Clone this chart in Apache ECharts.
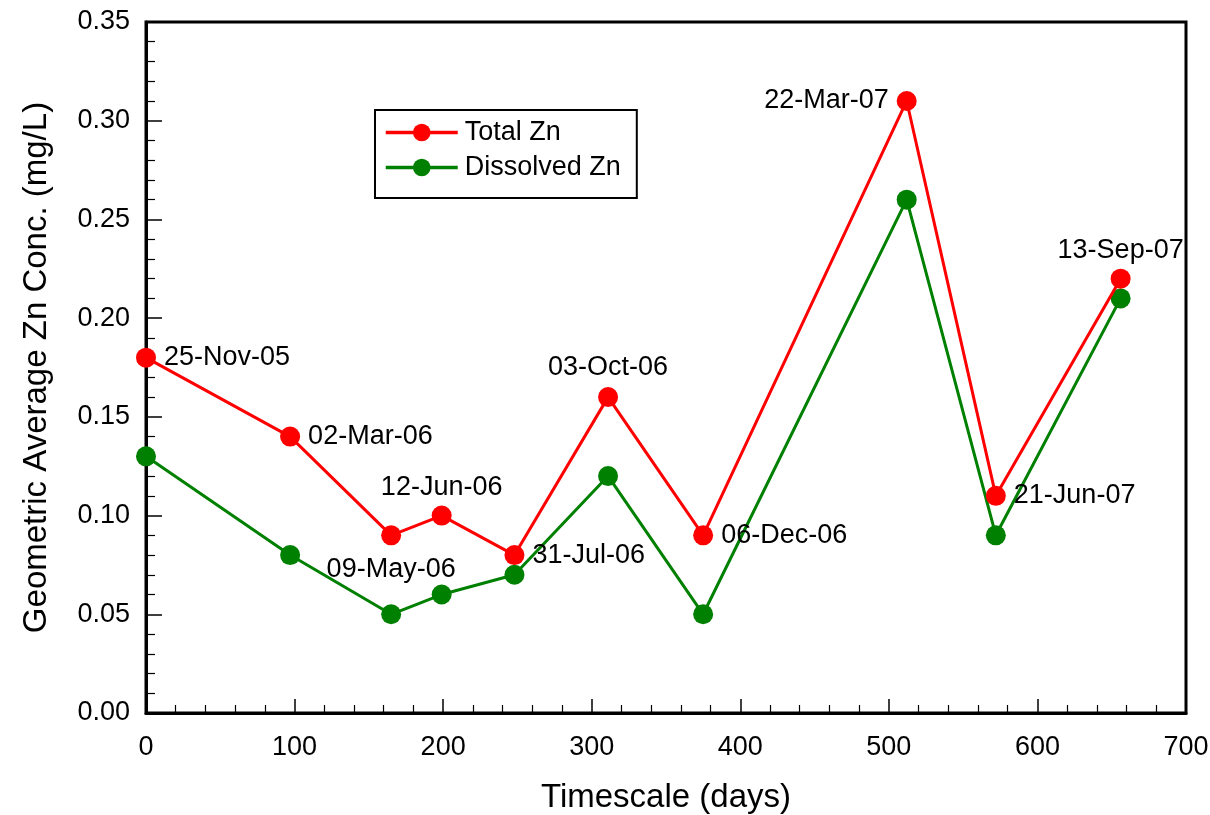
<!DOCTYPE html>
<html>
<head>
<meta charset="utf-8">
<script src="https://cdn.jsdelivr.net/npm/echarts@6/dist/echarts.min.js"></script>
<style>html,body{margin:0;padding:0;background:#fff;}#c{width:1210px;height:815px;}</style>
</head>
<body>
<div id="c"></div>
<script>
const days = [0, 97, 165, 199, 248, 311, 375, 512, 572, 656];
const dates = ['25-Nov-05','02-Mar-06','09-May-06','12-Jun-06','31-Jul-06','03-Oct-06','06-Dec-06','22-Mar-07','21-Jun-07','13-Sep-07'];
const totalZn = [0.18, 0.14, 0.09, 0.10, 0.08, 0.16, 0.09, 0.31, 0.11, 0.22];
const dissolvedZn = [0.13, 0.08, 0.05, 0.06, 0.07, 0.12, 0.05, 0.26, 0.09, 0.21];
const seriesNames = ['Total Zn', 'Dissolved Zn'];

const labelPos = ['right','right','bottom','top','right','top','right','left','right','top'];
const labelDist = [8, 8, 11, 5, 8, 6, 8, 8, 8, 5];

const FONT = 'Liberation Sans, Arial, sans-serif';
const chart = echarts.init(document.getElementById('c'));
chart.setOption({
  animation: false,
  backgroundColor: '#fff',
  grid: { left: 146, right: 24, top: 22, bottom: 102, outerBoundsMode: 'none', containLabel: false, show: true, borderColor: '#000', borderWidth: 3, backgroundColor: 'transparent' },
  legend: {
    orient: 'vertical', left: 375, top: 110,
    data: seriesNames,
    borderColor: '#000', borderWidth: 2, padding: [9, 16, 17, 9],
    itemWidth: 72, itemHeight: 22, itemGap: 8,
    lineStyle: { width: 3.5 },
    textStyle: { fontFamily: FONT, fontSize: 27, color: '#000', padding: [0, 0, 0, 2] },
    backgroundColor: '#fff'
  },
  xAxis: {
    type: 'value', min: 0, max: 700, interval: 100,
    name: 'Timescale (days)', nameLocation: 'middle', nameGap: 68,
    nameTextStyle: { fontFamily: FONT, fontSize: 33, color: '#000' },
    axisLine: { show: true, onZero: false, lineStyle: { color: '#000', width: 3 } },
    axisTick: { show: true, inside: true, length: 14, lineStyle: { color: '#000', width: 1.5 } },
    minorTick: { show: true, splitNumber: 5, length: 8, lineStyle: { color: '#000', width: 1.2 } },
    axisLabel: { fontFamily: FONT, fontSize: 27, color: '#000', margin: 21 },
    splitLine: { show: false }
  },
  yAxis: {
    type: 'value', min: 0, max: 0.35, interval: 0.05,
    name: 'Geometric Average Zn Conc. (mg/L)', nameLocation: 'middle', nameGap: 93,
    nameTextStyle: { fontFamily: FONT, fontSize: 33, color: '#000' },
    axisLine: { show: true, onZero: false, lineStyle: { color: '#000', width: 3 } },
    axisTick: { show: true, inside: true, length: 16, lineStyle: { color: '#000', width: 1.5 } },
    minorTick: { show: true, splitNumber: 5, length: 9, lineStyle: { color: '#000', width: 1.2 } },
    axisLabel: { fontFamily: FONT, fontSize: 27, color: '#000', margin: 16, formatter: v => v.toFixed(2) },
    splitLine: { show: false }
  },
  series: [
    {
      name: seriesNames[0], type: 'line', z: 3,
      data: days.map((d, i) => ({
        value: [d, totalZn[i]],
        label: { show: true, position: labelPos[i], distance: labelDist[i], formatter: dates[i] }
      })),
      symbol: 'circle', symbolSize: 20,
      itemStyle: { color: '#ff0000' },
      lineStyle: { color: '#ff0000', width: 3 },
      label: { fontFamily: FONT, fontSize: 27, color: '#000' }
    },
    {
      name: seriesNames[1], type: 'line', z: 2,
      data: days.map((d, i) => [d, dissolvedZn[i]]),
      symbol: 'circle', symbolSize: 20,
      itemStyle: { color: '#008000' },
      lineStyle: { color: '#008000', width: 3 }
    }
  ]
});
</script>
</body>
</html>
